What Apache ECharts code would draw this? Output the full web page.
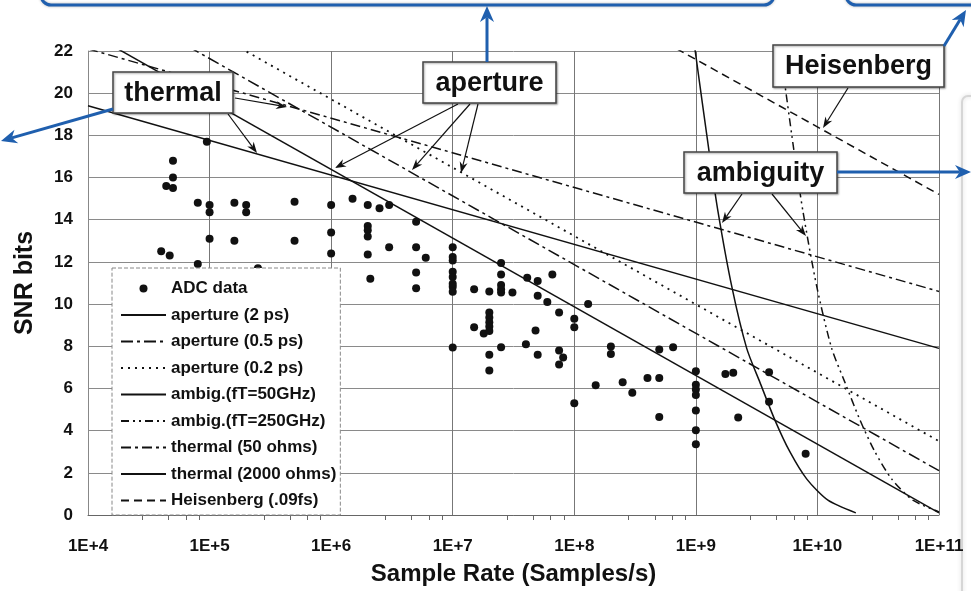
<!DOCTYPE html>
<html>
<head>
<meta charset="utf-8">
<script src="https://cdn.jsdelivr.net/npm/echarts@6/dist/echarts.min.js"></script>
<style>
html,body{margin:0;padding:0;background:#fff;}
#chart{width:971px;height:591px;}
</style>
</head>
<body>
<div id="chart"></div>
<script>
// ---------------- data ----------------
const xTickLabels = ['1E+4','1E+5','1E+6','1E+7','1E+8','1E+9','1E+10','1E+11'];
const yTickLabels = ['0','2','4','6','8','10','12','14','16','18','20','22'];

const seriesNames = ['ADC data','aperture (2 ps)','aperture (0.5 ps)','aperture (0.2 ps)',
  'ambig.(fT=50GHz)','ambig.(fT=250GHz)','thermal (50 ohms)','thermal (2000 ohms)','Heisenberg (.09fs)'];

// ADC data: [sample rate, SNR bits]
const adcData = [
  [9.5e4,17.7],[5e4,16.8],[5e4,16.0],[4.4e4,15.6],[5e4,15.5],[8e4,14.8],[1e5,14.7],[1e5,14.35],
  [1.6e5,14.8],[2e5,14.7],[2e5,14.35],[5e5,14.85],[1e6,14.7],[1e5,13.1],[1.6e5,13.0],[5e5,13.0],
  [1e6,13.4],[1e6,12.4],[4e4,12.5],[4.7e4,12.3],[8e4,11.9],[2.5e5,11.7],
  [1.5e6,15.0],[2e6,14.7],[2.5e6,14.55],[3e6,14.7],[2e6,13.7],[2e6,13.5],[2e6,13.2],[2e6,12.35],
  [2.1e6,11.2],[3e6,12.7],[5e6,13.9],[5e6,12.7],[6e6,12.2],[5e6,11.5],[5e6,10.75],
  [1e7,12.7],[1e7,12.23],[1e7,12.07],[1e7,11.53],[1e7,11.29],[1e7,10.97],[1e7,10.82],[1e7,10.58],[1e7,7.94],
  [1.5e7,10.7],[2e7,10.6],[2.5e7,11.95],[2.5e7,11.4],[2.5e7,10.9],[2.5e7,10.7],[2.5e7,10.55],[3.1e7,10.55],
  [4.1e7,11.25],[5e7,11.1],[5e7,10.4],[6e7,10.1],[6.6e7,11.4],[7.5e7,9.6],[1e8,9.3],[1e8,8.9],
  [1.5e7,8.9],[1.8e7,8.6],[2e7,9.6],[2e7,9.36],[2e7,9.14],[2e7,8.94],[2e7,8.73],[2.5e7,7.95],
  [2e7,7.6],[2e7,6.85],[4e7,8.1],[4.8e7,8.75],[5e7,7.6],[7.5e7,7.8],[8.1e7,7.47],[7.5e7,7.13],
  [1.3e8,10.0],[2e8,7.99],[2e8,7.63],[1e8,5.3],[1.5e8,6.15],[2.5e8,6.3],[3e8,5.8],[4e8,6.5],
  [5e8,6.5],[5e8,7.85],[6.5e8,7.95],[5e8,4.65],[1e9,6.82],[1e9,6.18],[1e9,5.95],[1e9,5.69],
  [1e9,4.96],[1e9,4.02],[1e9,3.36],[1.75e9,6.69],[2.03e9,6.74],[2.23e9,4.62],[4e9,6.77],[4e9,5.37],[8e9,2.9]
];

const aperture2ps   = [[1e4,22.9],[1e11,0.1]];
const aperture05ps  = [[1e4,24.9],[1e11,2.1]];
const aperture02ps  = [[1e4,26.2],[1e11,3.5]];
const ambig50GHz  = [[9.77e8,22.2],[1.28e9,17.3],[1.52e9,14.4],[1.98e9,10.8],[2.62e9,7.9],[3.36e9,6.3],
                     [4.47e9,4.5],[5.93e9,3.0],[8.18e9,1.7],[1.22e10,0.7],[2.07e10,0.1]];
const ambig250GHz = [[4.9e9,22.2],[6.4e9,17.3],[7.6e9,14.4],[9.9e9,10.8],[1.31e10,7.9],[1.68e10,6.3],
                     [2.24e10,4.5],[2.97e10,3.0],[4.09e10,1.7],[6.1e10,0.7],[1e11,0.15]];
const thermal50     = [[1e4,22.1],[1e11,10.6]];
const thermal2000   = [[1e4,19.4],[1e11,7.9]];
const heisenberg    = [[1e8,24.8],[1e11,15.2]];

// ---------------- chart ----------------
const FONT = '"Liberation Sans", Arial, sans-serif';
const INK = '#111';
const BLUE = '#1f5fae';

function lineSeries(name, data, type, smooth, width){
  return {name:name, type:'line', data:data, symbol:'none', showSymbol:false, smooth:smooth||false,
    silent:true, z:3, lineStyle:{color:INK, width:width||1.5, type:type}, itemStyle:{color:INK}};
}

function arrow(x1,y1,x2,y2,color,lw,hl,hw,z){
  const a = Math.atan2(y2-y1,x2-x1), c=Math.cos(a), s=Math.sin(a);
  const bx = x2-hl*c, by = y2-hl*s;
  const nx = x2-hl*0.7*c, ny = y2-hl*0.7*s;
  const px = -s*hw, py = c*hw;
  return [
    {type:'line', z:z, shape:{x1:x1,y1:y1,x2:nx,y2:ny}, style:{stroke:color,lineWidth:lw}},
    {type:'polygon', z:z, shape:{points:[[x2,y2],[bx+px,by+py],[nx,ny],[bx-px,by-py]]}, style:{fill:color}}
  ];
}
function box(x,y,w,h,text){
  return [
    {type:'rect', z:60, shape:{x:x,y:y,width:w,height:h}, style:{fill:'#fff',stroke:'#444',lineWidth:1.5,
      shadowBlur:2,shadowOffsetX:1,shadowOffsetY:1,shadowColor:'rgba(0,0,0,0.35)'}},
    {type:'text', z:61, style:{text:text, x:x+w/2, y:y+h/2+1, align:'center', verticalAlign:'middle',
      font:'bold 27px '+FONT, fill:INK}}
  ];
}

let g = [];
// light grey panel at the right edge
g.push({type:'rect', z:-1, shape:{x:962,y:96,width:40,height:520,r:6},
  style:{fill:'rgba(0,0,0,0)',stroke:'#d6d6d6',lineWidth:2,shadowBlur:4,shadowColor:'rgba(0,0,0,0.15)'}});
// blue frames at the top
g.push({type:'rect', z:70, shape:{x:41,y:-40,width:733,height:45,r:10},
  style:{fill:'rgba(0,0,0,0)',stroke:BLUE,lineWidth:3,shadowBlur:3,shadowColor:'rgba(0,0,0,0.3)'}});
g.push({type:'rect', z:70, shape:{x:846,y:-40,width:160,height:45,r:10},
  style:{fill:'rgba(0,0,0,0)',stroke:BLUE,lineWidth:3,shadowBlur:3,shadowColor:'rgba(0,0,0,0.3)'}});
// black annotation arrows
g = g.concat(arrow(235,98,287,107,INK,1.2,11,4,55));
g = g.concat(arrow(228,114,257,153,INK,1.2,11,4,55));
g = g.concat(arrow(458,104,335,168,INK,1.2,11,4,55));
g = g.concat(arrow(470,104,412,170,INK,1.2,11,4,55));
g = g.concat(arrow(478,104,461,173,INK,1.2,11,4,55));
g = g.concat(arrow(848,88,823,128,INK,1.2,11,4,55));
g = g.concat(arrow(742,194,722,223,INK,1.2,11,4,55));
g = g.concat(arrow(772,194,806,236,INK,1.2,11,4,55));
// boxes
g = g.concat(box(113,72,120,41,'thermal'));
g = g.concat(box(423,62,133,41,'aperture'));
g = g.concat(box(773,45,171,42,'Heisenberg'));
g = g.concat(box(684,152,153,41,'ambiguity'));
// blue arrows
g = g.concat(arrow(487,62,487,6,BLUE,3,16,7,72));
g = g.concat(arrow(113,109,1,141,BLUE,3,16,7,72));
g = g.concat(arrow(944,46,966,10,BLUE,3,16,7,72));
g = g.concat(arrow(837,172,971,172,BLUE,3,16,7,72));

const hiddenSymbol = {color:'rgba(0,0,0,0)', borderWidth:0, opacity:0};

const option = {
  animation:false,
  backgroundColor:'#fff',
  grid:{left:88,right:32,top:51,bottom:73},
  xAxis:{
    type:'log', logBase:10, min:1e4, max:1e11,
    name:'Sample Rate (Samples/s)', nameLocation:'middle', nameGap:47,
    nameTextStyle:{fontFamily:FONT,fontWeight:'bold',fontSize:24,color:INK},
    axisLine:{show:true,lineStyle:{color:'#666',width:1}},
    axisTick:{show:false},
    minorTick:{show:true,splitNumber:5,length:5,lineStyle:{color:'#666'}},
    axisLabel:{formatter:function(v){return xTickLabels[Math.round(Math.log10(v))-4];},
      fontFamily:FONT,fontWeight:'bold',fontSize:17,color:INK,margin:23},
    splitLine:{show:true,lineStyle:{color:'#777',width:1}}
  },
  yAxis:{
    type:'value', min:0, max:22, interval:2,
    name:'SNR bits', nameLocation:'middle', nameGap:50, nameRotate:90,
    nameTextStyle:{fontFamily:FONT,fontWeight:'bold',fontSize:25,color:INK},
    axisLine:{show:true,lineStyle:{color:'#888',width:1}},
    axisTick:{show:false},
    axisLabel:{formatter:function(v){return yTickLabels[Math.round(v/2)];},
      fontFamily:FONT,fontWeight:'bold',fontSize:17,color:INK,margin:15},
    splitLine:{show:true,lineStyle:{color:'#8a8a8a',width:1}}
  },
  legend:{
    orient:'vertical', left:112, top:268, itemWidth:45, itemHeight:8, itemGap:9.5,
    padding:[12,4,6,8], backgroundColor:'#fff', borderColor:'#888', borderWidth:1, borderType:'dashed',
    textStyle:{fontFamily:FONT,fontWeight:'bold',fontSize:17,color:INK,lineHeight:17},
    data:seriesNames.map(function(n,i){return i===0?{name:n,icon:'circle'}:{name:n,itemStyle:hiddenSymbol};}),
    z:20, selectedMode:false
  },
  graphic:{elements:g},
  series:[
    {name:seriesNames[0], type:'scatter', data:adcData, symbol:'circle', symbolSize:8, z:4,
      itemStyle:{color:INK, opacity:1}, silent:true},
    lineSeries(seriesNames[1], aperture2ps, 'solid'),
    lineSeries(seriesNames[2], aperture05ps, [12,4,3,4]),
    lineSeries(seriesNames[3], aperture02ps, [2,5], false, 1.8),
    lineSeries(seriesNames[4], ambig50GHz, 'solid', 0.25),
    lineSeries(seriesNames[5], ambig250GHz, [8,4,2,4,2,4], 0.25),
    lineSeries(seriesNames[6], thermal50, [10,4,3,4]),
    lineSeries(seriesNames[7], thermal2000, 'solid'),
    lineSeries(seriesNames[8], heisenberg, [8,5])
  ]
};
const chart = echarts.init(document.getElementById('chart'), null, {renderer:'canvas'});
chart.setOption(option);
</script>
</body>
</html>
